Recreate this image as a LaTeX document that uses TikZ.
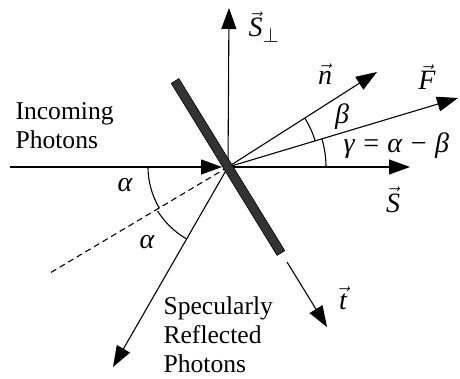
\documentclass[tikz,border=0pt]{standalone}
\usepackage{fontspec}
\setmainfont{Liberation Serif}
\usetikzlibrary{arrows.meta}

\newcommand{\vv}[1]{$\vec{\hbox{\itshape #1}}$}

\begin{document}
\begin{tikzpicture}[x=1pt, y=1pt, >={Triangle[length=21pt,width=15pt]}, line width=1.1pt,
    lbl/.style={font=\fontsize{28}{30}\selectfont\itshape, inner sep=0pt},
    txt/.style={font=\fontsize{25.6}{29}\selectfont, align=left, inner sep=0pt}]

  \useasboundingbox (-228,-211) rectangle (232,167);

  % Point where the photons hit the sail
  \coordinate (O) at (0,0);

  % Ends of the arrows
  \coordinate (In) at (-218,0);
  \coordinate (InTip) at (-6,0);
  \coordinate (S) at (182,0);
  \coordinate (Sperp) at (1,159);
  \coordinate (N) at (149,95);
  \coordinate (F) at (230,69);
  \coordinate (Back) at (-178,-106);
  \coordinate (Refl) at (-115,-200);
  \coordinate (Tstart) at (59,-95);
  \coordinate (Ttip) at (99,-160);

  % Draw the incoming photons and the axes
  \draw[->] (In) -- (InTip);
  \draw[->] (O) -- (S);
  \draw[->] (O) -- (Sperp);

  % Draw the normal, the force and the reflected photons
  \draw[->] (O) -- (N);
  \draw[->] (O) -- (F);
  \draw[dash pattern=on 6pt off 4pt] (O) -- (Back);
  \draw[->] (O) -- (Refl);
  \draw[->] (Tstart) -- (Ttip);

  % Draw the sail (tilted plate)
  \draw[line width=0.6pt, fill=black!80, rotate=-58.4] (-101,-4.5) rectangle (101,4.5);

  % Draw the angles
  \draw (O) ++(180:80) arc (180:211:80);
  \draw (O) ++(212:83) arc (212:240:83);
  \draw (O) ++(16.6:91) arc (16.6:32.5:91);
  \draw (O) ++(0:98) arc (0:16.6:98);

  % Angle labels
  \node[lbl] (alpha1) at (-103,-18) {α};
  \node[lbl] (alpha2) at (-81,-75) {α};
  \node[lbl] (beta) at (114,50) {β};
  \node[lbl, anchor=west] (gamma) at (115,21) {γ = α − β};

  % Vector labels
  \node[lbl] (sperplbl) at (36,140) {\vv{S}$_\perp$};
  \node[lbl] (nlbl) at (97,93) {\vv{n}};
  \node[lbl] (flbl) at (199,90) {\vv{F}};
  \node[lbl] (slbl) at (165,-33) {\vv{S}};
  \node[lbl] (tlbl) at (115,-131) {\vv{t}};

  % Text
  \node[txt, anchor=north west] (incoming) at (-213,65) {Incoming\\Photons};
  \node[txt, anchor=north west] (specular) at (-65,-129) {Specularly\\Reflected\\Photons};

\end{tikzpicture}
\end{document}
